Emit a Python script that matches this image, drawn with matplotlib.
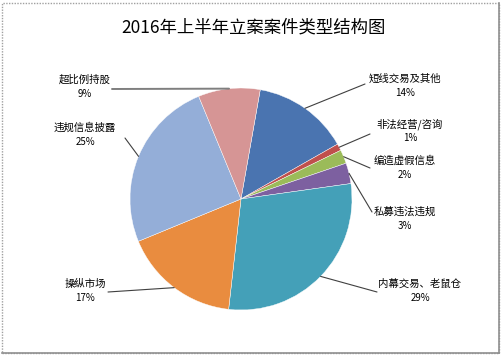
import numpy as np
import matplotlib.pyplot as plt
from matplotlib.patches import Rectangle

plt.rcParams['font.family'] = ['Noto Sans CJK SC', 'DejaVu Sans']

# data (clockwise from the top)
labels = ['短线交易及其他', '非法经营/咨询', '编造虚假信息', '私募违法违规',
          '内幕交易、老鼠仓', '操纵市场', '违规信息披露', '超比例持股']
values = [14, 1, 2, 3, 29, 17, 25, 9]
colors = ['#4A74B0', '#C0504D', '#9BBB59', '#7D60A0',
          '#44A0B8', '#E98C3F', '#94AED8', '#D69595']

W, H = 502, 356
fig = plt.figure(figsize=(W / 100, H / 100), dpi=100)

def fx(x, y):
    return (x / W, 1 - y / H)

# pie centre (241, 199) px, radius 111 px
cx, cy, r = 241, 199, 111
ax = fig.add_axes([(cx - r) / W, (H - cy - r) / H, 2 * r / W, 2 * r / H])
wedges, _ = ax.pie(values, colors=colors, startangle=80, counterclock=False,
                   radius=1, wedgeprops=dict(linewidth=0.3, edgecolor='white'))
ax.set_xlim(-1, 1)
ax.set_ylim(-1, 1)
ax.axis('off')

# label text centres and leader-line start points (image pixels)
text_pos = [(405, 79), (410, 124), (405, 161), (405, 212),
            (420, 284), (85, 284), (85, 128), (85, 80)]
line_start = [(365, 84), (370, 134), (370, 168), (372, 212),
              (377, 292), (108, 292), (125, 138), (112, 89)]

for i, (w, lab, v, tp, ls) in enumerate(zip(wedges, labels, values, text_pos, line_start)):
    mid = np.deg2rad((w.theta1 + w.theta2) / 2)
    px, py = np.cos(mid), np.sin(mid)
    lw = 1.4 if i == 7 else 0.8
    lc = '#7F7F7F' if i == 7 else '#404040'
    ax.annotate('', xy=(px, py), xycoords='data',
                xytext=fx(*ls), textcoords='figure fraction',
                arrowprops=dict(arrowstyle='-', color=lc, lw=lw,
                                shrinkA=0, shrinkB=0),
                annotation_clip=False)
    fig.text(*fx(tp[0], tp[1]), lab, ha='center', va='center', fontsize=7.5)
    fig.text(*fx(tp[0], tp[1] + 14), f'{v}%', ha='center', va='center',
             fontsize=7)

fig.text(*fx(254, 28), '2016年上半年立案案件类型结构图', ha='center',
         va='center', fontsize=12.5)

# chart border
fig.patches.append(Rectangle((2 / W, 3 / H), (W - 5) / W, (H - 6) / H,
                             transform=fig.transFigure, fill=False,
                             edgecolor='#A0A0A0', lw=1, linestyle=(0, (1, 1))))
fig.add_artist(plt.Line2D([(W - 3) / W, (W - 3) / W], [3 / H, (H - 3) / H],
                          transform=fig.transFigure, color='#909090', lw=1.2))
fig.add_artist(plt.Line2D([2 / W, (W - 3) / W], [3 / H, 3 / H],
                          transform=fig.transFigure, color='#909090', lw=1.2))

fig.savefig('out.png', dpi=100)
